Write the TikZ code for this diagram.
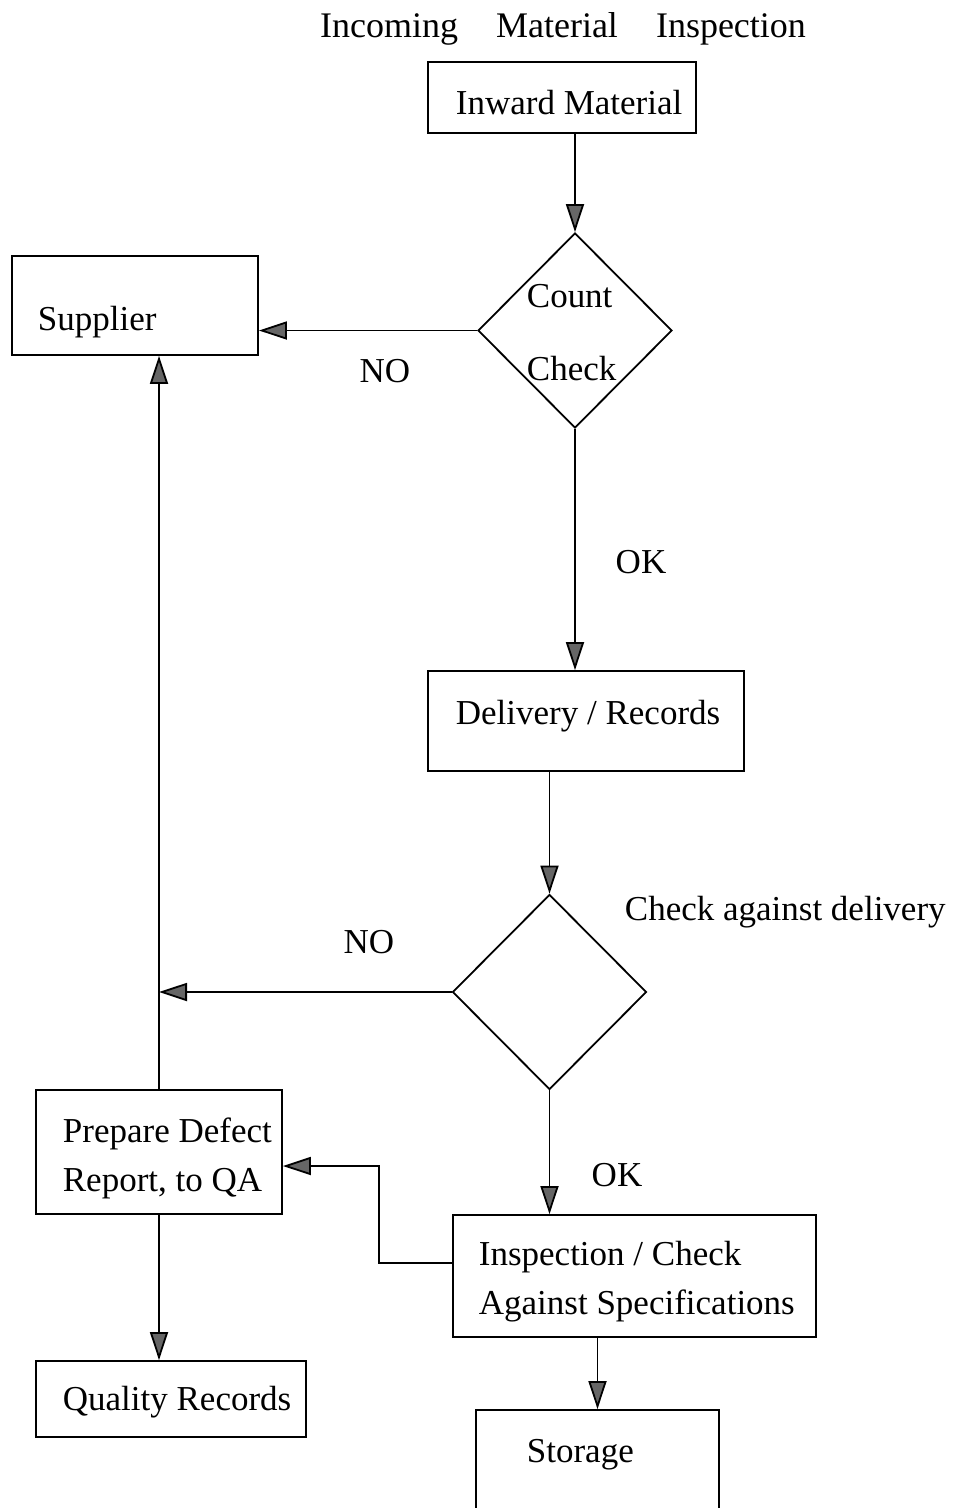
\documentclass[tikz,border=0pt]{standalone}
\usepackage{fontspec}
\setmainfont{Liberation Serif}
\usetikzlibrary{shapes.geometric,arrows.meta,calc}

\begin{document}
\begin{tikzpicture}[x=1pt,y=-1pt,line width=1.8pt,
  every node/.style={font=\fontsize{35}{42}\selectfont},
  box/.style={draw,rectangle,inner sep=0pt},
  decision/.style={draw,diamond,inner sep=0pt,minimum width=194pt,minimum height=195pt},
  txt/.style={anchor=base west,inner sep=0pt},
  answer/.style={anchor=base,inner sep=0pt},
  flow/.style={-{Triangle[length=28pt,width=18pt,fill=black!60]}}]
\useasboundingbox (0,0) rectangle (953,1508);
% The title
\node[answer] (title) at (563,37) {\fontsize{36}{42}\selectfont Incoming\hspace{38pt}Material\hspace{38pt}Inspection};
% The boxes
\node[box,minimum width=268pt,minimum height=71pt] (inward) at (562,97.5) {};
\node[box,minimum width=246pt,minimum height=99pt] (supplier) at (135,305.5) {};
\node[box,minimum width=316pt,minimum height=100pt] (delivery) at (586,721) {};
\node[box,minimum width=246pt,minimum height=124pt] (prepare) at (159,1152) {};
\node[box,minimum width=363pt,minimum height=122pt] (inspect) at (634.5,1276) {};
\node[box,minimum width=270pt,minimum height=76pt] (quality) at (171,1399) {};
\node[box,minimum width=243pt,minimum height=170pt] (storage) at (597.5,1495) {};
% The decisions
\node[decision] (count) at (575,330.5) {};
\node[decision] (match) at (549.5,992) {};
% The texts in the boxes
\foreach \x/\y/\t in {455/114/{Inward Material}, 526/307/Count, 526/380/Check,
  37/330/Supplier, 455/724/{Delivery / Records}, 62/1142/{Prepare Defect},
  62/1191/{Report, to QA}, 478/1265/{Inspection / Check},
  478/1314/{Against Specifications}, 62/1410/{Quality Records}, 526/1462/Storage}
  \node[txt] (line\y) at (\x,\y) {\t};
% The arrows
\draw[flow] (inward.south -| count.north) -- (count.north);
\draw[flow] (count.west) -- (count.west -| supplier.east);
\draw[flow] (count.south) -- (count.south |- delivery.north);
\draw[flow] (delivery.south -| match.north) -- (match.north);
\draw[flow] (match.west) -- (match.west -| prepare.north);
\draw[flow] (prepare.north) -- (prepare.north |- supplier.south);
\draw[flow] (match.south) -- (match.south |- inspect.north);
\draw[flow] ([yshift=13pt]inspect.west) -- ++(-73,0) |- ([yshift=-14pt]prepare.east);
\draw[flow] (prepare.south) -- (prepare.south |- quality.north);
\draw[flow] (inspect.south -| storage.north) -- (storage.north);
% The answers
\node[answer] (no1) at (385,382) {NO};
\node[answer] (ok1) at (641,573) {OK};
\node[txt] (against) at (624,920) {Check against delivery};
\node[answer] (no2) at (369,953) {NO};
\node[answer] (ok2) at (617,1186) {OK};
\end{tikzpicture}
\end{document}
